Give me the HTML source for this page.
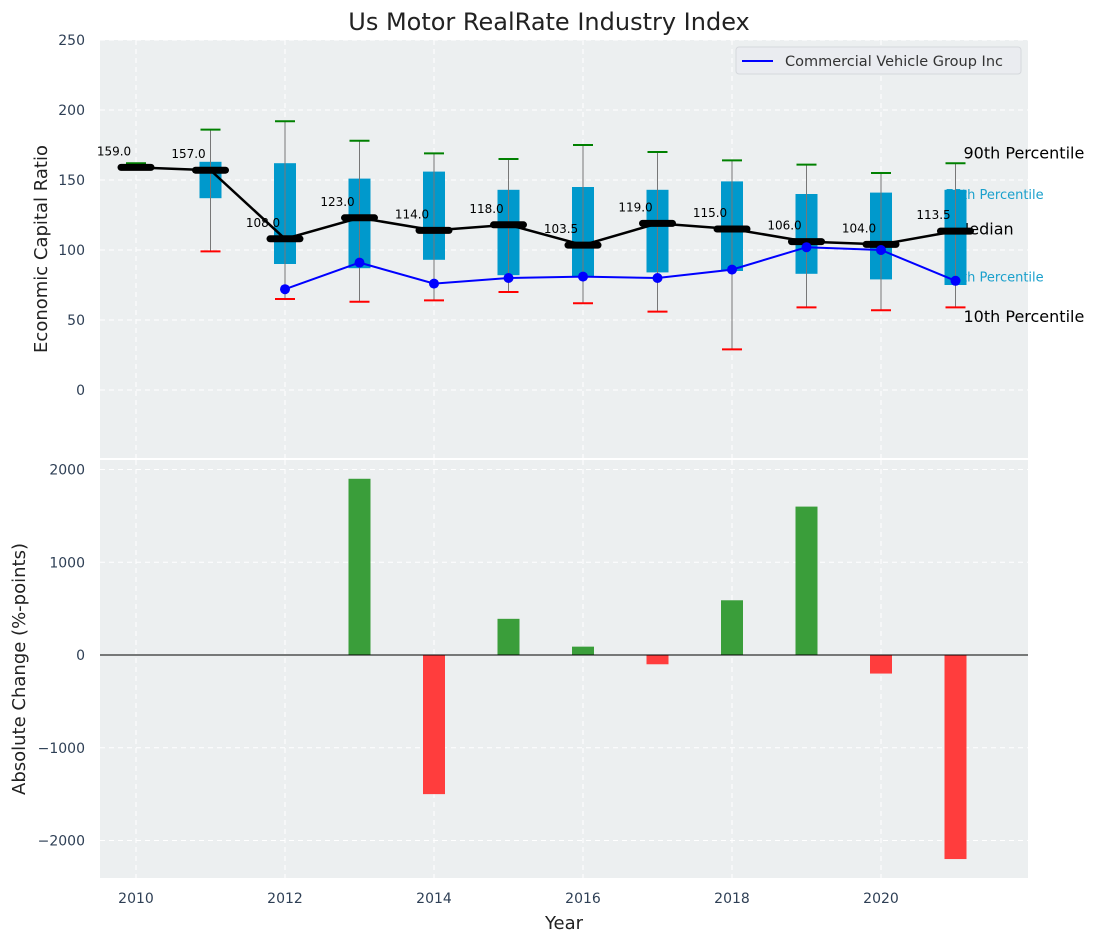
<!DOCTYPE html>
<html><head><meta charset="utf-8"><style>
body{margin:0;background:#fff;font-family:"Liberation Sans","DejaVu Sans",sans-serif;}
svg text{font-family:"DejaVu Sans","Liberation Sans",sans-serif;}
</style></head><body>
<svg id="c" width="1098" height="942" xmlns="http://www.w3.org/2000/svg"></svg>
<script>
const years=[2010,2011,2012,2013,2014,2015,2016,2017,2018,2019,2020,2021];
const medians=[159,157,108,123,114,118,103.5,119,115,106,104,113.5];
const q1=[158,137,90,87,93,82,81,84,85,83,79,75];
const q3=[161,163,162,151,156,143,145,143,149,140,141,143];
const p10=[158,99,65,63,64,70,62,56,29,59,57,59];
const p90=[162,186,192,178,169,165,175,170,164,161,155,162];
const compYears=[2012,2013,2014,2015,2016,2017,2018,2019,2020,2021];
const compVals=[72,91,76,80,81,80,86,102,100,78];
const chgYears=[2013,2014,2015,2016,2017,2018,2019,2020,2021];
const chgVals=[1900,-1500,390,90,-100,590,1600,-200,-2200];
const yTicksTop=[0,50,100,150,200,250];
const yTicksBot=[-2000,-1000,0,1000,2000];
const xTicks=[2010,2012,2014,2016,2018,2020];

const svg=document.getElementById('c');
const NS='http://www.w3.org/2000/svg';
function mk(t,a,p){const e=document.createElementNS(NS,t);for(const k in a)e.setAttribute(k,a[k]);(p||svg).appendChild(e);return e;}
const L=100,R=1028,T1=40,B1=458,T2=460,B2=878;
const X=v=>136+(v-2010)*74.5;
const Y1=v=>390-v*1.4;
const Y2=v=>655-v*0.09275;

let e;
e=mk('text',{x:549,y:30,'text-anchor':'middle','font-size':24,fill:'#222'});e.textContent='Us Motor RealRate Industry Index';


[[T1,B1],[T2,B2]].forEach(([t,b],i)=>{e=mk('rect',{x:L,y:t,width:R-L,height:b-t,fill:'#eceff0'});

});
xTicks.forEach(v=>{[[T1,B1],[T2,B2]].forEach(([t,b])=>{mk('line',{x1:X(v),x2:X(v),y1:t,y2:b,stroke:'#fff','stroke-dasharray':'5,4','stroke-width':1});});
e=mk('text',{x:X(v),y:903,'text-anchor':'middle','font-size':14,fill:'#2e3f55'});e.textContent=v;

});
yTicksTop.forEach(v=>{mk('line',{x1:L,x2:R,y1:Y1(v),y2:Y1(v),stroke:'#fff','stroke-dasharray':'5,4'});
e=mk('text',{x:85,y:Y1(v)+5,'text-anchor':'end','font-size':14,fill:'#2e3f55'});e.textContent=v;

});
yTicksBot.forEach(v=>{mk('line',{x1:L,x2:R,y1:Y2(v),y2:Y2(v),stroke:'#fff','stroke-dasharray':'5,4'});
e=mk('text',{x:85,y:Y2(v)+5,'text-anchor':'end','font-size':14,fill:'#2e3f55'});e.textContent=(v<0?'\u2212'+(-v):v);

});
e=mk('text',{x:47,y:249,'text-anchor':'middle','font-size':18,fill:'#222',transform:'rotate(-90 47 249)'});e.textContent='Economic Capital Ratio';


e=mk('text',{x:25,y:669,'text-anchor':'middle','font-size':18,fill:'#222',transform:'rotate(-90 25 669)'});e.textContent='Absolute Change (%-points)';


e=mk('text',{x:564,y:929,'text-anchor':'middle','font-size':18,fill:'#222'});e.textContent='Year';


const last=years.length-1, lx=X(years[last]);
[['90th Percentile',p90[last]+7,16,'#000',8],['75th Percentile',q3[last]-3,13,'#1aa0cc',-10],['Median',medians[last]+1,16,'#000',0],['25th Percentile',q1[last]+6,13,'#1aa0cc',-10],['10th Percentile',p10[last]-7,16,'#000',8]].forEach(([t,v,fs,c,dx])=>{
e=mk('text',{x:lx+dx,y:Y1(v)+5,'font-size':fs,fill:c});e.textContent=t;

});
years.forEach((yr,i)=>{const x=X(yr);
e=mk('rect',{x:x-11,y:Y1(q3[i]),width:22,height:Y1(q1[i])-Y1(q3[i]),fill:'#0099cc'});


e=mk('line',{x1:x,x2:x,y1:Y1(p10[i]),y2:Y1(p90[i]),stroke:'#777','stroke-width':1});


e=mk('line',{x1:x-10,x2:x+10,y1:Y1(p90[i]),y2:Y1(p90[i]),stroke:'green','stroke-width':2});


if(i>0){e=mk('line',{x1:x-10,x2:x+10,y1:Y1(p10[i]),y2:Y1(p10[i]),stroke:'red','stroke-width':2});

}
});
e=mk('polyline',{points:years.map((y,i)=>X(y)+','+Y1(medians[i])).join(' '),fill:'none',stroke:'#000','stroke-width':2.5});


years.forEach((yr,i)=>{const x=X(yr);
e=mk('line',{x1:x-15,x2:x+15,y1:Y1(medians[i]),y2:Y1(medians[i]),stroke:'#000','stroke-width':7,'stroke-linecap':'round'});


e=mk('text',{x:x-22,y:Y1(medians[i])-12,'text-anchor':'middle','font-size':12,fill:'#000'});e.textContent=medians[i].toFixed(1);

});
e=mk('polyline',{points:compYears.map((y,i)=>X(y)+','+Y1(compVals[i])).join(' '),fill:'none',stroke:'blue','stroke-width':2});


compYears.forEach((y,i)=>{e=mk('circle',{cx:X(y),cy:Y1(compVals[i]),r:5,fill:'blue'});

});
e=mk('rect',{x:736,y:47,width:285,height:27,rx:3,fill:'#eaecf0',stroke:'#d5d8dc'});


mk('line',{x1:742,x2:773,y1:61,y2:61,stroke:'blue','stroke-width':2});
e=mk('text',{x:785,y:66,'font-size':14.5,fill:'#333'});e.textContent='Commercial Vehicle Group Inc';


chgYears.forEach((y,i)=>{const v=chgVals[i];
e=mk('rect',{x:X(y)-11,y:Math.min(Y2(v),Y2(0)),width:22,height:Math.abs(Y2(v)-Y2(0)),fill:v>=0?'#3a9e3a':'#ff3d3d'});

});
e=mk('line',{x1:L,x2:R,y1:Y2(0),y2:Y2(0),stroke:'#000','stroke-width':1});


</script>
</body></html>
